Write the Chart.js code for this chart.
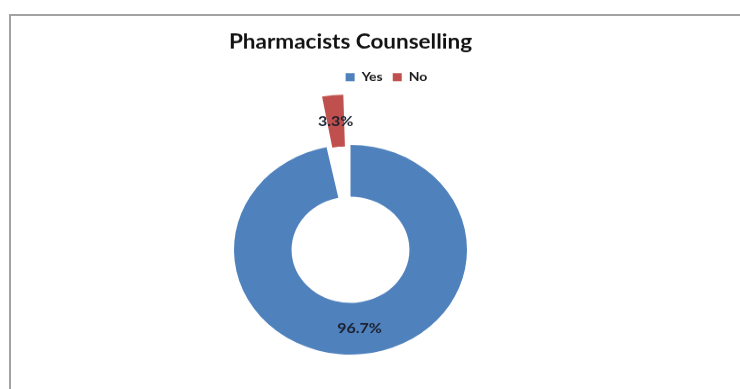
<!DOCTYPE html>
<html>
<head>
<meta charset="utf-8">
<script src="https://cdn.jsdelivr.net/npm/chart.js@4.4.1/dist/chart.umd.min.js"></script>
<style>
  html, body { margin: 0; padding: 0; background: #ffffff; overflow: hidden; width: 740px; height: 389px; }
  #frame {
    position: absolute; left: 9px; top: 14px; width: 800px; height: 500px;
    border-left: 2px solid #a3a3a3; border-top: 2px solid #a3a3a3; box-sizing: border-box;
  }
  #wrap {
    position: absolute; left: 0; top: 0; width: 740px; height: 480px;
    transform: scaleY(0.9); transform-origin: 0 0;
  }
</style>
</head>
<body>
<div id="frame"></div>
<div id="wrap"><canvas id="c" width="740" height="480"></canvas></div>
<script>
// Survey answers and their shares (%)
const categories = ['Yes', 'No'];
const shares = [96.7, 3.3];
const sliceColors = ['#4F81BD', '#C0504D'];
// pull-out distance of each slice
const explode = [0, 125];
const chartTitle = 'Pharmacists Counselling';

// Percentage labels placed in the middle of each ring segment
const valueLabels = {
  id: 'valueLabels',
  afterDatasetsDraw(chart) {
    const ctx = chart.ctx;
    const meta = chart.getDatasetMeta(0);
    ctx.save();
    ctx.font = 'bold 16px Lato';
    ctx.fillStyle = '#1a2030';
    ctx.textAlign = 'center';
    ctx.textBaseline = 'middle';
    meta.data.forEach((arc, i) => {
      const p = arc.getProps(['x', 'y', 'startAngle', 'endAngle', 'innerRadius', 'outerRadius']);
      const off = (arc.options.offset || 0) / 4;
      const fix = 1 - Math.sin(Math.min(Math.PI, p.endAngle - p.startAngle));
      const mid = (p.startAngle + p.endAngle) / 2;
      const r = (p.innerRadius + p.outerRadius) / 2 + off + off * fix;
      ctx.fillText(shares[i].toFixed(1) + '%', p.x + Math.cos(mid) * r, p.y + Math.sin(mid) * r);
    });
    ctx.restore();
  }
};

// Nudge the legend a little to the right of the title
const legendShift = {
  id: 'legendShift',
  afterLayout(chart) {
    const lg = chart.legend;
    lg.left += 36;
    lg.right += 36;
  }
};

new Chart(document.getElementById('c'), {
  type: 'doughnut',
  data: {
    labels: categories,
    datasets: [{
      data: shares,
      backgroundColor: sliceColors,
      borderWidth: 0,
      offset: explode,
      hoverOffset: 0
    }]
  },
  options: {
    responsive: false,
    animation: false,
    events: [],
    cutout: '50.6%',
    radius: 116.5,
    layout: { padding: { left: 0, right: 39, top: 0, bottom: 27.7 } },
    plugins: {
      title: {
        display: true,
        text: chartTitle,
        color: '#111111',
        font: { family: 'Lato', size: 22.5, weight: 'bold' },
        padding: { top: 33.2, bottom: 8.5 }
      },
      legend: {
        position: 'top',
        labels: {
          boxWidth: 9,
          boxHeight: 9,
          padding: 10,
          color: '#1a1a1a',
          font: { family: 'Lato', size: 14, weight: 'bold' }
        }
      },
      tooltip: { enabled: false }
    }
  },
  plugins: [valueLabels, legendShift]
});
</script>
</body>
</html>
